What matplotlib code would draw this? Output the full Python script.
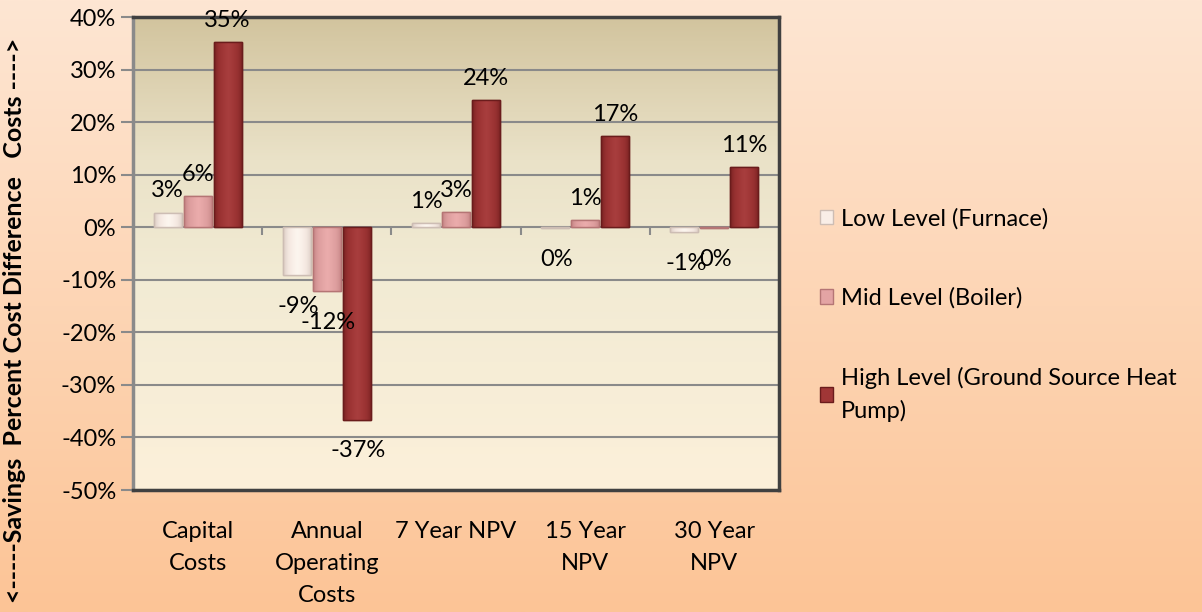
import numpy as np
import matplotlib
matplotlib.use("Agg")
import matplotlib.pyplot as plt
from matplotlib.colors import to_rgb
from matplotlib.patches import Patch

# ---------------- data ----------------
categories = ["Capital\nCosts", "Annual\nOperating\nCosts", "7 Year NPV", "15 Year\nNPV", "30 Year\nNPV"]
series_names = ["Low Level (Furnace)", "Mid Level (Boiler)", "High Level (Ground Source Heat\nPump)"]
low_values = [2.8, -9.1, 0.8, -0.2, -1.0]
mid_values = [5.9, -12.1, 2.9, 1.3, -0.1]
high_values = [35.2, -36.6, 24.2, 17.4, 11.4]
y_ticks = [40, 30, 20, 10, 0, -10, -20, -30, -40, -50]
y_label = "<-----Savings  Percent Cost Difference   Costs ---->"

# ---------------- style ----------------
FONT = ["Lato", "DejaVu Sans"]
plt.rcParams["font.family"] = FONT
FS = 17

series_styles = [
    dict(base="#F9EEE7", dark="#D6C6BD", edge="#CDBDB4"),
    dict(base="#E3A4A4", dark="#C07F80", edge="#B57575"),
    dict(base="#A03636", dark="#741F1F", edge="#6A1C1C"),
]

W, H = 1202, 612
fig = plt.figure(figsize=(W / 100, H / 100), dpi=100)

# figure background gradient
bg = fig.add_axes([0, 0, 1, 1], zorder=-10)
top_c = np.array(to_rgb("#FEE6D3"))
bot_c = np.array(to_rgb("#FCC496"))
t = np.linspace(0, 1, 256)[:, None]
grad = top_c[None, :] * (1 - t[..., None]) + bot_c[None, :] * t[..., None]
bg.imshow(grad, aspect="auto", extent=(0, 1, 0, 1), interpolation="bilinear")
bg.set_axis_off()

ax = fig.add_axes([133 / W, 1 - 490 / H, (779 - 133) / W, (490 - 17) / H])
ax.set_facecolor("none")

ymin, ymax = -50, 40
xmin, xmax = -0.5, len(categories) - 0.5

# plot area gradient (top khaki -> cream)
stops = [(0.0, "#D2C49E"), (0.30, "#EAE2C8"), (0.55, "#F2EBD4"), (1.0, "#FCF0DA")]
tt = np.linspace(0, 1, 256)
cols = np.zeros((256, 3))
for i in range(3):
    cols[:, i] = np.interp(tt, [s[0] for s in stops], [to_rgb(s[1])[i] for s in stops])
ax.imshow(cols[:, None, :], aspect="auto", extent=(xmin, xmax, ymin, ymax),
          interpolation="bilinear", zorder=0)

# grid
for yv in y_ticks:
    ax.axhline(yv, color="#8A8A8A", lw=1.5, zorder=0.5)

x = np.arange(len(categories))
bw = 0.217
offsets = [-0.232, 0.0, 0.232]
all_values = [low_values, mid_values, high_values]


def shade(rect, st):
    x0, y0 = rect.get_x(), rect.get_y()
    w, h = rect.get_width(), rect.get_height()
    if h == 0:
        return
    tx = np.linspace(-1, 1, 80)
    wgt = np.clip(np.abs(tx) ** 3.5, 0, 1)
    b = np.array(to_rgb(st["base"]))
    d = np.array(to_rgb(st["dark"]))
    lt = np.minimum(b + 0.06, 1)
    mid_w = np.clip(1 - np.abs(tx) * 2.2, 0, 1)[:, None]
    c = b[None, :] * (1 - wgt[:, None]) + d[None, :] * wgt[:, None]
    c = c * (1 - mid_w * 0.5) + lt[None, :] * mid_w * 0.5
    im = ax.imshow(c[None, :, :], aspect="auto",
                   extent=(x0, x0 + w, min(y0, y0 + h), max(y0, y0 + h)),
                   interpolation="bilinear", zorder=2.1)
    im.set_clip_path(rect)


for vals, off, st in zip(all_values, offsets, series_styles):
    bars = ax.bar(x + off, vals, width=bw, color=st["base"], edgecolor=st["edge"],
                  linewidth=1.0, zorder=2)
    for r, v in zip(bars, vals):
        shade(r, st)
        ax.bar(r.get_x() + r.get_width() / 2, v, width=bw, color="none",
               edgecolor=st["edge"], linewidth=1.0, zorder=2.2)
        lab = f"{int(round(v))}%"
        if v > 0:
            ax.annotate(lab, (r.get_x() + r.get_width() / 2, v), xytext=(0, 8),
                        textcoords="offset points", ha="center", va="bottom",
                        fontsize=FS, zorder=5)
        else:
            ax.annotate(lab, (r.get_x() + r.get_width() / 2, v), xytext=(1, -15),
                        textcoords="offset points", ha="center", va="top",
                        fontsize=FS, zorder=5)

# category boundary ticks at zero line
ax.vlines(np.arange(len(categories) - 1) + 0.5, 0, -1.5, color="#8A8A8A", lw=1.5, zorder=0.6)

ax.set_xlim(xmin, xmax)
ax.set_ylim(ymin, ymax)
ax.set_yticks(y_ticks)
ax.set_yticklabels([f"{v}%" for v in y_ticks], fontsize=FS)
ax.tick_params(axis="y", length=9, width=1.5, color="#8A8A8A", pad=3)
ax.set_xticks(x)
ax.set_xticklabels(categories, fontsize=FS, linespacing=1.67)
ax.tick_params(axis="x", length=0, pad=22)

for s in ["top", "right", "bottom"]:
    ax.spines[s].set_color("#404040")
    ax.spines[s].set_linewidth(2.5)
ax.spines["left"].set_color("#8A8A8A")
ax.spines["left"].set_linewidth(2.5)

fig.text(15 / W, 1 - 320 / H, y_label, rotation=90, ha="center", va="center",
         fontsize=18, fontweight="bold")

handles = [Patch(facecolor=st["base"], edgecolor=st["edge"]) for st in series_styles]
leg = fig.legend(handles, series_names, loc="upper left",
                 bbox_to_anchor=(820 / W, 1 - 208 / H), frameon=False, fontsize=FS,
                 handlelength=0.55, handleheight=0.55, handletextpad=0.35,
                 labelspacing=2.45, borderpad=0, borderaxespad=0)
for txt in leg.get_texts():
    txt.set_linespacing(1.6)

fig.savefig("out.png", dpi=100)
